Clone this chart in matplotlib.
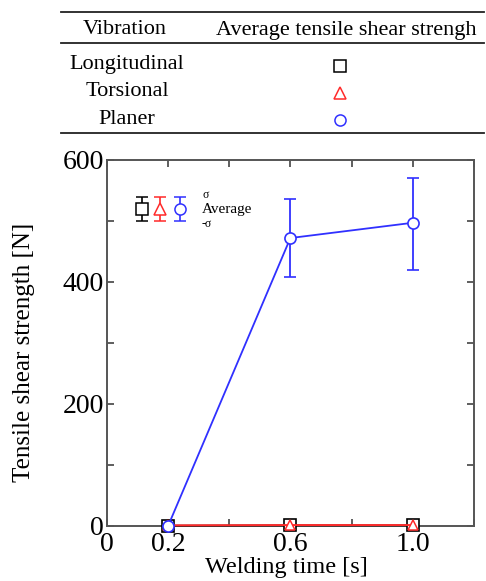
import matplotlib
matplotlib.use("Agg")
import matplotlib.pyplot as plt

plt.rcParams['font.family'] = ['Liberation Serif', 'DejaVu Serif']

# data
welding_time = [0.2, 0.6, 1.0]
longitudinal = [0.5, 1.0, 1.0]
torsional = [1.0, 1.5, 1.5]
planer = [0.0, 472, 497]
planer_err_low = [0.0, 64, 77]
planer_err_high = [0.0, 64, 73]

vibrations = ["Longitudinal", "Torsional", "Planer"]
colors = ["black", "#ff2a2a", "#3030ff"]
markers = ["s", "^", "o"]

xticks = [0, 0.2, 0.4, 0.6, 0.8, 1.0, 1.2]
xticklabels = ["0", "0.2", "", "0.6", "", "1.0", ""]
yticks = [0, 200, 400, 600]

fig = plt.figure(figsize=(4.86, 5.81), dpi=100)

# ---- table on top ----
tab = fig.add_axes([0, 0, 1, 1], facecolor="none")
tab.set_xlim(0, 486)
tab.set_ylim(581, 0)
tab.axis("off")
for yl in [12, 43, 133]:
    tab.plot([61, 484], [yl, yl], color="#222222", lw=1.3)
tab.text(125, 30, "Vibration", ha="center", va="center", fontsize=16)
tab.text(346, 30, "Average tensile shear strengh", ha="center", va="center", fontsize=16)
for i, name in enumerate(vibrations):
    yy = 65 + 27 * i
    tab.text(127, yy, name, ha="center", va="center", fontsize=16)
    tab.plot([340], [yy + 1], marker=markers[i], color=colors[i], mfc="white",
             ms=8, mew=1.1, linestyle="none")

# ---- main plot ----
ax = fig.add_axes([0.220, 0.0947, 0.755, 0.630])
ax.errorbar(welding_time, longitudinal, color=colors[0], marker=markers[0], mfc="white",
            ms=8, mew=1.2, lw=1.3, zorder=3, clip_on=False)
ax.errorbar(welding_time, torsional, color=colors[1], marker=markers[1], mfc="white",
            ms=6.5, mew=1.1, lw=1.4, zorder=4, clip_on=False)
ax.errorbar(welding_time, planer, yerr=[planer_err_low, planer_err_high], color=colors[2],
            marker=markers[2], mfc="white", ms=8, mew=1.2, lw=1.3, capsize=4,
            capthick=1.3, elinewidth=1.3, zorder=5, clip_on=False)

# key for the error bars
for i, kx in enumerate([0.095, 0.145, 0.200]):
    ax.errorbar([kx], [0.866], yerr=[0.033], transform=ax.transAxes, color=colors[i],
                marker=markers[i], mfc="white", ms=8, mew=1.1, capsize=4, capthick=1.2,
                elinewidth=1.2, linestyle="none")
ax.text(0.260, 0.904, "σ", transform=ax.transAxes, fontsize=8.5, va="center", ha="left")
ax.text(0.258, 0.864, "Average", transform=ax.transAxes, fontsize=11, va="center", ha="left")
ax.text(0.258, 0.826, "-σ", transform=ax.transAxes, fontsize=8.5, va="center", ha="left")

ax.set_xlim(0, 1.2)
ax.set_ylim(0, 600)
ax.set_xticks(xticks)
ax.set_xticklabels(xticklabels, fontsize=20)
ax.set_yticks(yticks)
ax.set_yticklabels([str(v) for v in yticks], fontsize=20)
ax.set_yticks([100, 300, 500], minor=True)
ax.tick_params(direction="in", top=True, right=True, length=5, width=1.1, color="#333333")
ax.tick_params(which="minor", direction="in", right=True, length=5, width=1.1, color="#333333")
ax.tick_params(axis="x", pad=4)
ax.tick_params(axis="y", pad=2)
for s in ax.spines.values():
    s.set_color("#555555")
    s.set_linewidth(1.4)

ax.set_xlabel("Welding time [s]", fontsize=17.5)
ax.set_ylabel("Tensile shear strength [N]", fontsize=18)
ax.xaxis.set_label_coords(0.488, -0.085)
ax.yaxis.set_label_coords(-0.196, 0.473)

fig.savefig("out.png", dpi=100)
